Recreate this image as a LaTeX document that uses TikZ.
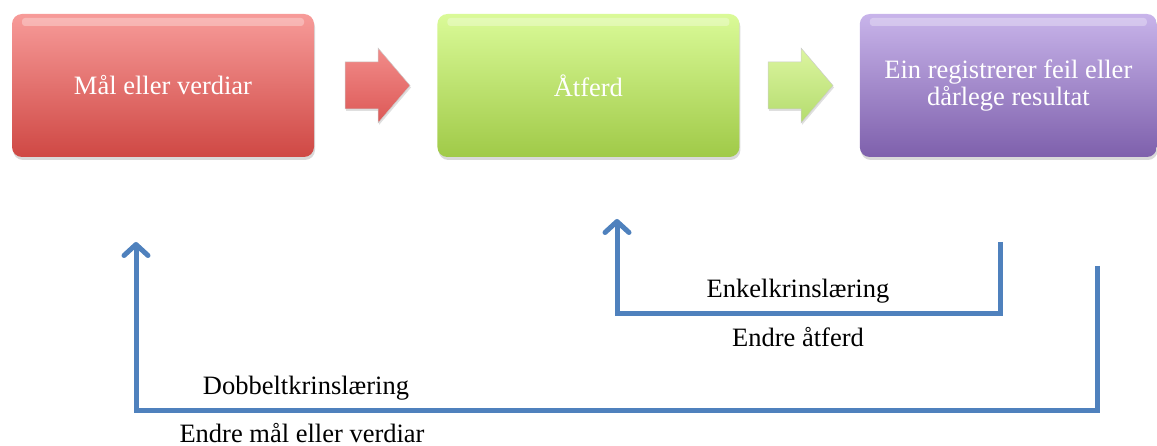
\documentclass[tikz,border=0pt]{standalone}
\usepackage{fontspec}
\setmainfont{Liberation Serif}
\usetikzlibrary{arrows.meta,calc,positioning,shadows}

\definecolor{redtop}{RGB}{247,155,153}
\definecolor{redbot}{RGB}{207,72,68}
\definecolor{greentop}{RGB}{218,250,152}
\definecolor{greenbot}{RGB}{160,202,72}
\definecolor{purptop}{RGB}{200,180,234}
\definecolor{purpbot}{RGB}{126,96,172}
\definecolor{redarrtop}{RGB}{242,140,138}
\definecolor{redarrbot}{RGB}{220,88,86}
\definecolor{greenarrtop}{RGB}{220,245,160}
\definecolor{greenarrbot}{RGB}{180,220,110}
\definecolor{loopblue}{RGB}{79,129,189}

\begin{document}
\begin{tikzpicture}[x=1pt, y=-1pt,
    box/.style={rounded corners=10pt, minimum width=302pt, minimum height=143pt,
        inner sep=0pt, text=white, align=center, font=\fontsize{26.5}{27}\selectfont,
        drop shadow={opacity=0.3, shadow xshift=1pt, shadow yshift=-3pt},
        path picture={\fill[white, opacity=0.3, rounded corners=3pt]
            ([xshift=10pt, yshift=-4pt]path picture bounding box.north west) rectangle
            ([xshift=-10pt, yshift=-12pt]path picture bounding box.north east);}},
    blockarrow/.style={draw=black!20, line width=0.5pt,
        drop shadow={opacity=0.25, shadow xshift=1pt, shadow yshift=-2pt}},
    fbline/.style={draw=loopblue, line width=5pt,
        -{Straight Barb[length=11pt, width=24pt, round]}},
    looptext/.style={font=\fontsize{26.5}{27}\selectfont, anchor=base, inner sep=0pt}]

    \useasboundingbox (0,0) rectangle (1157,446);

    % The three steps
    \node[box, top color=redtop, bottom color=redbot] (goals) at (163,85.5) {Mål eller verdiar};
    \node[box, top color=greentop, bottom color=greenbot, right=123pt of goals] (behaviour) {Åtferd};
    \node[box, top color=purptop, bottom color=purpbot, minimum width=297pt, right=120pt of behaviour] (errors)
        {Ein registrerer feil eller\\dårlege resultat};

    % Block arrows between the steps
    \foreach \ax/\ct/\cb in {345/redarrtop/redarrbot, 768/greenarrtop/greenarrbot} {
        \draw[blockarrow, top color=\ct, bottom color=\cb] (\ax,62) -- ++(33,0) -- ++(0,-14)
            -- ++(32,37.5) -- ++(-32,37.5) -- ++(0,-14) -- ++(-33,0) -- cycle;
    }

    % Single loop learning
    \coordinate (in-start) at (1000,242);
    \coordinate (in-low) at (617,314);
    \coordinate (in-end) at (617,219);
    \draw[fbline] (in-start) |- (in-low) -- (in-end);
    \node[looptext] (single) at (798,298) {Enkelkrinslæring};
    \node[looptext] (singlechg) at (798,347) {Endre åtferd};

    % Double loop learning
    \coordinate (out-start) at (1097,266);
    \coordinate (out-low) at (136,410);
    \coordinate (out-end) at (136,242);
    \draw[fbline] (out-start) |- (out-low) -- (out-end);
    \node[looptext] (double) at (306,395) {Dobbeltkrinslæring};
    \node[looptext] (doublechg) at (302,442) {Endre mål eller verdiar};

\end{tikzpicture}
\end{document}
